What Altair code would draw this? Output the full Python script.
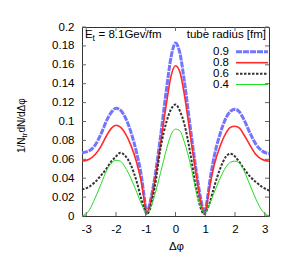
import altair as alt
import pandas as pd

phi = [-3.1416, -2.9, -2.7, -2.5, -2.3, -2.15, -2.0, -1.85, -1.7, -1.5, -1.3, -1.15, -1.05, -0.97,
       -0.85, -0.7, -0.5, -0.3, -0.15, 0.0, 0.15, 0.3, 0.5, 0.7, 0.85, 0.97, 1.05, 1.15, 1.3, 1.5,
       1.7, 1.85, 2.0, 2.15, 2.3, 2.5, 2.7, 2.9, 3.1416]

r09 = [0.067, 0.069, 0.075, 0.087, 0.102, 0.110, 0.114, 0.112, 0.105, 0.089, 0.066, 0.043, 0.020, 0.003,
       0.015, 0.040, 0.085, 0.135, 0.168, 0.183, 0.172, 0.142, 0.093, 0.047, 0.018, 0.003, 0.014, 0.036,
       0.063, 0.087, 0.104, 0.111, 0.113, 0.110, 0.102, 0.088, 0.076, 0.069, 0.066]
r08 = [0.058, 0.060, 0.065, 0.074, 0.086, 0.093, 0.096, 0.094, 0.088, 0.075, 0.056, 0.036, 0.017, 0.003,
       0.013, 0.037, 0.077, 0.120, 0.148, 0.159, 0.152, 0.128, 0.085, 0.043, 0.015, 0.003, 0.012, 0.031,
       0.054, 0.074, 0.088, 0.094, 0.095, 0.093, 0.086, 0.075, 0.065, 0.060, 0.058]
r06 = [0.028, 0.031, 0.036, 0.043, 0.051, 0.058, 0.063, 0.067, 0.064, 0.054, 0.036, 0.018, 0.008, 0.002,
       0.008, 0.030, 0.072, 0.100, 0.113, 0.118, 0.111, 0.097, 0.066, 0.028, 0.008, 0.002, 0.006, 0.014,
       0.031, 0.050, 0.063, 0.066, 0.063, 0.057, 0.050, 0.042, 0.036, 0.031, 0.027]
r04 = [0.000, 0.006, 0.019, 0.034, 0.049, 0.056, 0.059, 0.058, 0.052, 0.040, 0.025, 0.013, 0.006, 0.003,
       0.008, 0.022, 0.046, 0.071, 0.086, 0.092, 0.090, 0.078, 0.055, 0.025, 0.010, 0.003, 0.006, 0.013,
       0.025, 0.040, 0.052, 0.057, 0.058, 0.056, 0.048, 0.033, 0.018, 0.006, 0.000]

radii = ["0.9", "0.8", "0.6", "0.4"]
series = [r09, r08, r06, r04]
x_ticks = [-3, -2, -1, 0, 1, 2, 3]
y_ticks = [0, 0.02, 0.04, 0.06, 0.08, 0.1, 0.12, 0.14, 0.16, 0.18, 0.2]

styles = {
    "0.9": dict(color="#7474ff", strokeWidth=3, strokeDash=[6, 1]),
    "0.8": dict(color="#ff2a2a", strokeWidth=1.6),
    "0.6": dict(color="#333333", strokeWidth=2, strokeDash=[2.5, 1.5]),
    "0.4": dict(color="#22dd22", strokeWidth=1),
}

W, H = 187, 189
FONT = "Liberation Sans"
FS = 11.5

rows = []
for r, vals in zip(radii, series):
    for p, v in zip(phi, vals):
        rows.append({"phi": p, "val": v, "r": r})
df = pd.DataFrame(rows)

xscale = alt.Scale(domain=[-3.1416, 3.1416], nice=False, zero=False)
yscale = alt.Scale(domain=[0, 0.2], nice=False, zero=True)
xaxis = alt.Axis(values=x_ticks, tickSize=0, labelPadding=7, domain=False, grid=False, title=None,
                 labelExpr="toString(datum.value)")
yaxis = alt.Axis(values=y_ticks, tickSize=0, labelPadding=8, domain=False, grid=False, title=None,
                 format=".2~f")


def X(field):
    return alt.X(f"{field}:Q", scale=xscale, axis=xaxis)


def Y(field):
    return alt.Y(f"{field}:Q", scale=yscale, axis=yaxis)


layers = []
for r in radii:
    st = styles[r]
    layers.append(
        alt.Chart(df).transform_filter(alt.datum.r == r)
        .mark_line(interpolate="monotone", **st)
        .encode(x=X("phi"), y=Y("val"))
    )

# inward ticks
xt = pd.DataFrame({"v": x_ticks})
yt = pd.DataFrame({"v": y_ticks})
tick_col = "#666666"
layers.append(alt.Chart(xt).mark_rule(color=tick_col, strokeWidth=1).encode(x=X("v"), y=alt.value(H), y2=alt.value(H - 4)))
layers.append(alt.Chart(xt).mark_rule(color=tick_col, strokeWidth=1).encode(x=X("v"), y=alt.value(0), y2=alt.value(4)))
layers.append(alt.Chart(yt).mark_rule(color=tick_col, strokeWidth=1).encode(y=Y("v"), x=alt.value(0), x2=alt.value(4)))
layers.append(alt.Chart(yt).mark_rule(color=tick_col, strokeWidth=1).encode(y=Y("v"), x=alt.value(W - 4), x2=alt.value(W)))

one = pd.DataFrame({"a": [0]})


def txt(s, x, y, size=FS, align="left", angle=0, baseline="middle"):
    kw = dict(text=s, font=FONT, fontSize=size, align=align, baseline=baseline, color="black")
    if angle:
        kw["angle"] = angle
    return alt.Chart(one).mark_text(**kw).encode(x=alt.value(x), y=alt.value(y))


# E_t annotation
layers.append(txt("E", 3, 7.5))
layers.append(txt("t", 10.6, 10.5, size=8.5))
layers.append(txt("= 8.1Gev/fm", 16.5, 7.5))

# legend
layers.append(txt("tube radius [fm]", 184, 7.5, align="right"))
leg_y = [24.7, 35.7, 46.7, 57.5]
for r, ly in zip(radii, leg_y):
    layers.append(txt(r, 147, ly, align="right"))
    layers.append(alt.Chart(one).mark_rule(**styles[r]).encode(x=alt.value(154), x2=alt.value(186), y=alt.value(ly)))

# axis titles
layers.append(txt("Δφ", W / 2 + 1, 220, align="center"))
YFS = 10
yb = 126
layers.append(txt("1/N", -60, yb, size=YFS, angle=270))
layers.append(txt("tr", -57.5, yb - 15.6, size=7.5, angle=270))
layers.append(txt("dN/dΔφ", -60, yb - 20.5, size=YFS, angle=270))

chart = alt.layer(*layers).properties(
    width=W, height=H,
    padding={"left": 74, "top": 19, "right": 7, "bottom": 41},
    autosize=alt.AutoSizeParams(type="none"),
).configure_view(stroke="#333333", strokeWidth=1).configure_axis(
    labelFont=FONT, labelFontSize=FS, labelColor="black"
)

chart.save("out.html", embed_options={"renderer": "svg", "actions": False})
